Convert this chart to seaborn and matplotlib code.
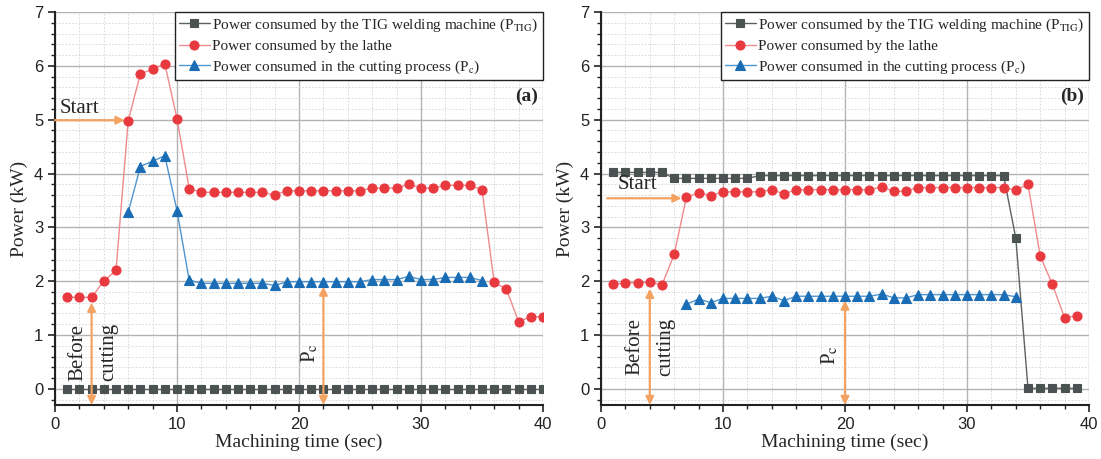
import matplotlib
matplotlib.use("Agg")
import matplotlib.pyplot as plt
from matplotlib.ticker import MultipleLocator
import seaborn as sns
import pandas as pd

# ---- (a) measurements -------------------------------------------------
time_a = [1, 2, 3, 4, 5, 6, 7, 8, 9, 10, 11, 12, 13, 14, 15, 16, 17, 18, 19, 20,
          21, 22, 23, 24, 25, 26, 27, 28, 29, 30, 31, 32, 33, 34, 35, 36, 37, 38, 39, 40]
tig_a = [0.0, 0.0, 0.0, 0.0, 0.0, 0.0, 0.0, 0.0, 0.0, 0.0, 0.0, 0.0, 0.0, 0.0, 0.0, 0.0, 0.0, 0.0, 0.0, 0.0,
         0.0, 0.0, 0.0, 0.0, 0.0, 0.0, 0.0, 0.0, 0.0, 0.0, 0.0, 0.0, 0.0, 0.0, 0.0, 0.0, 0.0, 0.0, 0.0, 0.0]
lathe_a = [1.70, 1.70, 1.70, 2.00, 2.20, 4.98, 5.85, 5.94, 6.04, 5.02, 3.72, 3.65, 3.65, 3.65, 3.65,
           3.65, 3.65, 3.60, 3.68, 3.68, 3.68, 3.68, 3.68, 3.68, 3.68, 3.73, 3.73, 3.73, 3.80, 3.73,
           3.73, 3.78, 3.78, 3.78, 3.70, 1.98, 1.85, 1.25, 1.34, 1.34]
time_pc_a = [6, 7, 8, 9, 10, 11, 12, 13, 14, 15, 16, 17, 18, 19, 20, 21, 22, 23, 24, 25,
             26, 27, 28, 29, 30, 31, 32, 33, 34, 35]
pc_a = [3.28, 4.13, 4.23, 4.33, 3.31, 2.02, 1.96, 1.96, 1.96, 1.96, 1.96, 1.96, 1.92, 1.99, 1.99,
        1.99, 1.99, 1.99, 1.99, 1.99, 2.03, 2.03, 2.03, 2.09, 2.03, 2.03, 2.07, 2.07, 2.07, 2.01]

# ---- (b) measurements -------------------------------------------------
time_b = [1, 2, 3, 4, 5, 6, 7, 8, 9, 10, 11, 12, 13, 14, 15, 16, 17, 18, 19, 20,
          21, 22, 23, 24, 25, 26, 27, 28, 29, 30, 31, 32, 33, 34, 35, 36, 37, 38, 39]
tig_b = [4.02, 4.02, 4.02, 4.02, 4.02, 3.91, 3.91, 3.91, 3.91, 3.91, 3.91, 3.91, 3.96, 3.96, 3.96,
         3.96, 3.96, 3.96, 3.96, 3.96, 3.96, 3.96, 3.96, 3.96, 3.96, 3.96, 3.96, 3.96, 3.96, 3.96,
         3.96, 3.96, 3.96, 2.80, 0.01, 0.01, 0.01, 0.01, 0.01]
lathe_b = [1.94, 1.97, 1.97, 1.98, 1.93, 2.50, 3.56, 3.64, 3.59, 3.66, 3.66, 3.66, 3.66, 3.70, 3.62,
           3.70, 3.70, 3.70, 3.70, 3.70, 3.70, 3.70, 3.75, 3.67, 3.67, 3.74, 3.74, 3.74, 3.74, 3.74,
           3.74, 3.74, 3.74, 3.69, 3.80, 2.47, 1.94, 1.32, 1.36]
time_pc_b = [7, 8, 9, 10, 11, 12, 13, 14, 15, 16, 17, 18, 19, 20, 21, 22, 23, 24, 25, 26,
             27, 28, 29, 30, 31, 32, 33, 34]
pc_b = [1.57, 1.67, 1.60, 1.68, 1.68, 1.68, 1.68, 1.72, 1.64, 1.72, 1.72, 1.72, 1.72, 1.72, 1.72,
        1.72, 1.76, 1.69, 1.69, 1.75, 1.75, 1.75, 1.75, 1.75, 1.75, 1.75, 1.75, 1.71]

labels = [
    r"Power consumed by the TIG welding machine (P$_{\mathrm{TIG}}$)",
    "Power consumed by the lathe",
    r"Power consumed in the cutting process (P$_{\mathrm{c}}$)",
]

SERIF = ["Liberation Serif", "DejaVu Serif"]
SANS = ["Liberation Sans", "DejaVu Sans"]
ORANGE = "#f4a261"

sns.set_style("ticks")
# tick numbers in a sans face, everything else set explicitly to serif
plt.rcParams["font.family"] = SANS
plt.rcParams["mathtext.fontset"] = "stix"

styles = [
    dict(marker="s", color="#5b6261", markerfacecolor="#4a5352", markeredgecolor="#4a5352", markersize=5.5),
    dict(marker="o", color="#f08a8d", markerfacecolor="#e8393f", markeredgecolor="#e8393f", markersize=6.5),
    dict(marker="^", color="#4f95d0", markerfacecolor="#1a6db5", markeredgecolor="#1a6db5", markersize=7),
]

fig = plt.figure(figsize=(11.01, 4.59), dpi=100)
ax_a = fig.add_axes([55 / 1101, 1 - 405 / 459, 488 / 1101, 393 / 459])
ax_b = fig.add_axes([601 / 1101, 1 - 405 / 459, 488 / 1101, 393 / 459])


def draw_series(ax, series):
    for (x, y), lab, st in zip(series, labels, styles):
        df = pd.DataFrame({"t": x, "p": y})
        sns.lineplot(data=df, x="t", y="p", ax=ax, label=lab, linewidth=1.0,
                     markeredgewidth=0.8, **st)


def style_axes(ax, tag):
    ax.set_xlim(0, 40)
    ax.set_ylim(-0.3, 7)
    ax.xaxis.set_major_locator(MultipleLocator(10))
    ax.xaxis.set_minor_locator(MultipleLocator(2))
    ax.yaxis.set_major_locator(MultipleLocator(1))
    ax.yaxis.set_minor_locator(MultipleLocator(0.2))
    ax.grid(which="major", color="#b3b3b3", linewidth=1.0)
    ax.grid(which="minor", color="#d4d4d4", linewidth=0.6, linestyle=(0, (2, 2)))
    ax.set_axisbelow(True)
    for side in ("top", "right"):
        ax.spines[side].set_visible(False)
    for side in ("left", "bottom"):
        ax.spines[side].set_color("#222222")
        ax.spines[side].set_linewidth(1.5)
    ax.tick_params(which="major", direction="out", length=5, width=1.2, color="#222222",
                   labelsize=12, labelcolor="#222222", labelfontfamily="Liberation Sans")
    ax.tick_params(which="minor", direction="out", length=3, width=1.0, color="#222222")
    ax.set_xlabel("Machining time (sec)", fontsize=14, family=SERIF, labelpad=1)
    ax.set_ylabel("Power (kW)", fontsize=14, family=SERIF, labelpad=4)
    leg = ax.legend(loc="upper right", borderaxespad=0, fancybox=False, framealpha=1,
                    edgecolor="#222222", prop={"family": SERIF, "size": 11},
                    handlelength=2.0, handletextpad=0.15, labelspacing=0.35,
                    borderpad=0.3)
    leg.get_frame().set_linewidth(1.0)
    ax.text(0.99, 0.785, tag, transform=ax.transAxes, ha="right", va="center",
            fontsize=14, fontweight="bold", family=SERIF)


def arrow(ax, start, end, both=False):
    ax.annotate("", xy=end, xytext=start,
                arrowprops=dict(arrowstyle="<|-|>" if both else "-|>", color=ORANGE,
                                lw=1.6, mutation_scale=12, shrinkA=0, shrinkB=0))


def note(ax, x, y, s, rot=0, ha="center"):
    ax.text(x, y, s, rotation=rot, fontsize=15, family=SERIF, ha=ha, va="center")


draw_series(ax_a, [(time_a, tig_a), (time_a, lathe_a), (time_pc_a, pc_a)])
style_axes(ax_a, "(a)")
arrow(ax_a, (0, 4.99), (5.7, 4.99))
note(ax_a, 0.4, 5.2, "Start", ha="left")
arrow(ax_a, (3, -0.3), (3, 1.6), both=True)
note(ax_a, 1.9, 0.68, "Before", rot=90)
note(ax_a, 4.4, 0.68, "cutting", rot=90)
arrow(ax_a, (22, -0.3), (22, 1.9), both=True)
note(ax_a, 20.9, 0.67, r"P$_{\mathrm{c}}$", rot=90)

draw_series(ax_b, [(time_b, tig_b), (time_b, lathe_b), (time_pc_b, pc_b)])
style_axes(ax_b, "(b)")
arrow(ax_b, (0.5, 3.54), (6.6, 3.54))
note(ax_b, 1.4, 3.79, "Start", ha="left")
arrow(ax_b, (4, -0.3), (4, 1.86), both=True)
note(ax_b, 2.8, 0.78, "Before", rot=90)
note(ax_b, 5.3, 0.78, "cutting", rot=90)
arrow(ax_b, (20, -0.3), (20, 1.64), both=True)
note(ax_b, 18.8, 0.63, r"P$_{\mathrm{c}}$", rot=90)

fig.savefig("out.png", dpi=100)
